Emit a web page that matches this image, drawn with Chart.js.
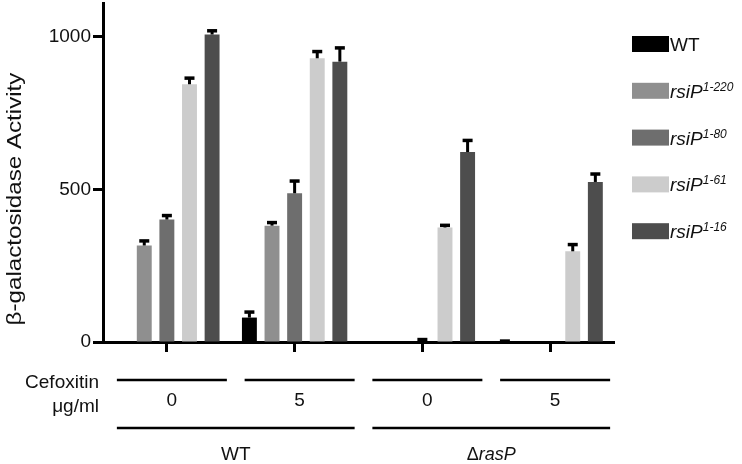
<!DOCTYPE html>
<html>
<head>
<meta charset="utf-8">
<script src="https://cdn.jsdelivr.net/npm/chart.js@4"></script>
<style>
  html, body { margin: 0; padding: 0; background: #fff; }
</style>
</head>
<body>
<canvas id="chart" width="742" height="464"></canvas>
<script>
// groups along the x axis: strain x cefoxitin dose
const groups = ['WT 0', 'WT 5', 'rasP 0', 'rasP 5'];
const doseLabels = ['0', '5', '0', '5'];
const strainLabels = ['WT', 'rasP'];

// series (legend)
const seriesNames = ['WT', 'rsiP', 'rsiP', 'rsiP', 'rsiP'];
const seriesSups = ['', '1-220', '1-80', '1-61', '1-16'];
const seriesColors = ['#000000', '#8f8f8f', '#6e6e6e', '#cccccc', '#4d4d4d'];

// beta-galactosidase activity
const wtValues    = [0, 80, 0, 0];
const rsiP220     = [316, 381, 0, 0];
const rsiP80      = [401, 487, 0, 0];
const rsiP61      = [844, 929, 375, 297];
const rsiP16      = [1007, 918, 622, 524];

// error bars (upper only)
const wtErr       = [0, 18, 0, 3];
const rsiP220Err  = [15, 10, 0, 0];
const rsiP80Err   = [13, 40, 8, 0];
const rsiP61Err   = [20, 22, 7, 22];
const rsiP16Err   = [12, 45, 38, 26];

const yTicks = [0, 500, 1000];

const allValues = [wtValues, rsiP220, rsiP80, rsiP61, rsiP16];
const allErrors = [wtErr, rsiP220Err, rsiP80Err, rsiP61Err, rsiP16Err];

const FONT = "'Liberation Sans', Arial, sans-serif";

function fontStr(size, italic) {
    return (italic ? 'italic ' : '') + size + 'px ' + FONT;
}

// draw a run of text pieces left to right, with optional horizontal stretch
function drawPieces(ctx, pieces, x, y, stretch, align) {
    ctx.save();
    ctx.textBaseline = 'alphabetic';
    ctx.textAlign = 'left';
    let total = 0;
    pieces.forEach(p => { ctx.font = fontStr(p.size, p.italic); total += ctx.measureText(p.text).width; });
    ctx.translate(x, y);
    ctx.scale(stretch, 1);
    let cx = 0;
    if (align === 'center') cx = -total / 2;
    if (align === 'right') cx = -total;
    pieces.forEach(p => {
        ctx.font = fontStr(p.size, p.italic);
        ctx.fillText(p.text, cx, -(p.rise || 0));
        cx += ctx.measureText(p.text).width;
    });
    ctx.restore();
}

const errorBars = {
    id: 'errorBars',
    afterDatasetsDraw(chart) {
        const ctx = chart.ctx;
        const yScale = chart.scales.y;
        ctx.save();
        ctx.strokeStyle = '#000';
        chart.data.datasets.forEach((ds, d) => {
            const meta = chart.getDatasetMeta(d);
            ds.data.forEach((v, i) => {
                const err = allErrors[d][i];
                if (!err) return;
                const bar = meta.data[i];
                const top = yScale.getPixelForValue(v + err);
                ctx.lineWidth = 3;
                ctx.beginPath();
                ctx.moveTo(bar.x, bar.y);
                ctx.lineTo(bar.x, top);
                ctx.stroke();
                ctx.lineWidth = 3.5;
                ctx.beginPath();
                ctx.moveTo(bar.x - 5, top);
                ctx.lineTo(bar.x + 5, top);
                ctx.stroke();
            });
        });
        ctx.restore();
    }
};

const annotations = {
    id: 'annotations',
    afterDraw(chart) {
        const ctx = chart.ctx;
        const area = chart.chartArea;
        const x = chart.scales.x;
        ctx.save();
        ctx.fillStyle = '#111';

        // y axis title
        ctx.save();
        ctx.translate(21, 199);
        ctx.rotate(-Math.PI / 2);
        drawPieces(ctx, [{ text: 'β-galactosidase Activity', size: 21 }], 0, 0, 1.15, 'center');
        ctx.restore();

        // legend
        seriesNames.forEach((name, i) => {
            const by = 36 + i * 46.8;
            const bx = area.right + 18;
            ctx.fillStyle = seriesColors[i];
            ctx.fillRect(bx, by, 37, 16);
            ctx.fillStyle = '#111';
            const pieces = [{ text: name, size: 19, italic: i > 0 }];
            if (seriesSups[i]) pieces.push({ text: seriesSups[i], size: 12, italic: true, rise: 7 });
            drawPieces(ctx, pieces, bx + 38, by + 15, 1, 'left');
        });

        // cefoxitin dose row
        drawPieces(ctx, [{ text: 'Cefoxitin', size: 19 }], 99, 388, 1, 'right');
        drawPieces(ctx, [{ text: 'μg/ml', size: 19 }], 99, 412, 1, 'right');

        ctx.strokeStyle = '#000';
        ctx.lineWidth = 2.5;
        const centers = groups.map((g, i) => x.getPixelForValue(i));
        centers.forEach((c, i) => {
            ctx.beginPath();
            ctx.moveTo(c - 50, 380);
            ctx.lineTo(c + 60, 380);
            ctx.stroke();
            drawPieces(ctx, [{ text: doseLabels[i], size: 19 }], c + 5, 406, 1, 'center');
        });

        // strain row
        strainLabels.forEach((s, k) => {
            const left = centers[k * 2] - 50;
            const right = centers[k * 2 + 1] + 60;
            ctx.beginPath();
            ctx.moveTo(left, 428);
            ctx.lineTo(right, 428);
            ctx.stroke();
            const pieces = k === 0
                ? [{ text: s, size: 19 }]
                : [{ text: 'Δ', size: 18 }, { text: s, size: 18, italic: true }];
            drawPieces(ctx, pieces, (left + right) / 2, 460, 1, 'center');
        });
        ctx.restore();
    }
};

const ctx = document.getElementById('chart').getContext('2d');

new Chart(ctx, {
    type: 'bar',
    data: {
        labels: groups,
        datasets: allValues.map((vals, i) => ({
            label: seriesNames[i] + seriesSups[i],
            data: vals,
            backgroundColor: seriesColors[i],
            borderWidth: 0,
            categoryPercentage: 0.885,
            barPercentage: 0.66
        }))
    },
    options: {
        responsive: false,
        animation: false,
        devicePixelRatio: 1,
        layout: { padding: { top: 3, right: 128, left: 0, bottom: 0 } },
        plugins: {
            legend: { display: false },
            tooltip: { enabled: false }
        },
        scales: {
            x: {
                grid: {
                    display: true, drawOnChartArea: false, offset: false,
                    tickLength: 10, tickWidth: 3, tickColor: '#000'
                },
                border: { color: '#000', width: 3 },
                ticks: { display: false },
                afterFit: s => { s.height = 122; s.paddingLeft = 0; s.paddingRight = 0; }
            },
            y: {
                min: 0,
                max: 1110,
                ticks: {
                    stepSize: 500,
                    color: '#111',
                    padding: 2,
                    font: { family: FONT, size: 19 },
                    callback: v => String(v)
                },
                afterBuildTicks: s => { s.ticks = yTicks.map(v => ({ value: v })); },
                grid: {
                    drawOnChartArea: false,
                    tickLength: 10, tickWidth: 3, tickColor: '#000'
                },
                border: { color: '#000', width: 3 },
                afterFit: s => { s.width = 103; s.paddingTop = 0; s.paddingBottom = 0; }
            }
        }
    },
    plugins: [errorBars, annotations]
});
</script>
</body>
</html>
